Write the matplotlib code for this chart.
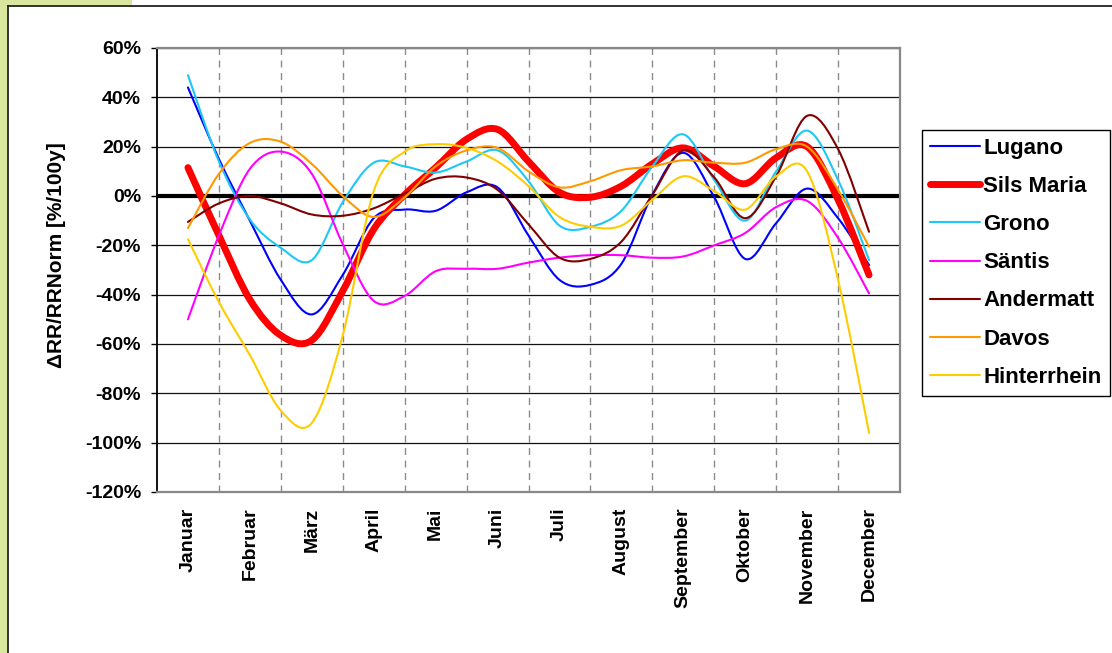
import numpy as np
import matplotlib
matplotlib.use('Agg')
import matplotlib.pyplot as plt
from matplotlib.path import Path
from matplotlib.patches import PathPatch, Rectangle
from matplotlib.lines import Line2D

plt.rcParams['font.family'] = ['Liberation Sans', 'DejaVu Sans']
plt.rcParams['font.weight'] = 'bold'

monate = ['Januar', 'Februar', 'März', 'April', 'Mai', 'Juni', 'Juli',
          'August', 'September', 'Oktober', 'November', 'December']

# Werte je halben Monat, Mitte Januar bis Mitte Dezember [%/100y]
lugano = [44, 15, -10, -34, -48, -32, -9, -5.5, -6, 1.5, 3.5, -16, -34, -36,
          -27.5, 0.5, 17.5, -0.5, -25.5, -11, 3, -9, -28]
sils_maria = [11.5, -16, -42, -56.5, -58.5, -38.5, -13.5, 0.5, 11.5, 23, 27, 14,
              1.5, -0.5, 4, 13, 19.5, 12, 5, 15.5, 20, -1.5, -32]
grono = [49, 14, -9.5, -21, -26, -2.5, 13.5, 12, 9.5, 14, 18.5, 6, -12, -12.5,
         -6, 12, 25, 6.5, -10, 10, 26.5, 6.5, -26]
saentis = [-50, -16, 11, 18, 9, -19.5, -42.5, -40.5, -30.5, -29.5, -29.5, -27,
           -25, -24, -24, -25, -24.5, -20, -15, -4.5, -2, -17, -39.5]
andermatt = [-10.5, -3, 0, -3, -7.5, -8, -5, 1, 7, 7.5, 2.5, -11.5, -25, -25.5,
             -18.5, 0.5, 18.5, 7.5, -9, 8, 32.5, 19, -14.5]
davos = [-13, 9, 21.5, 22, 13, 0, -8.5, -0.5, 12, 18.5, 19.5, 10, 3.5, 6, 10.5,
         12, 14.5, 13.5, 13.5, 19, 20, 2.5, -20.5]
hinterrhein = [-17.5, -43, -64.5, -87, -92, -56.5, 2, 18, 21, 19.5, 14, 4, -8.5,
               -12.5, -12, -1.5, 8, 2, -5.5, 8, 10, -34, -96]

stationen = ['Lugano', 'Sils Maria', 'Grono', 'Säntis', 'Andermatt', 'Davos', 'Hinterrhein']
reihen = [lugano, sils_maria, grono, saentis, andermatt, davos, hinterrhein]
farben = ['#0000ff', '#ff0000', '#1ec8f5', '#ff00ff', '#800000', '#ff9900', '#ffcc00']
breiten = [1.5, 5.0, 1.5, 1.5, 1.5, 1.5, 1.5]

t = np.arange(1, 12.01, 0.5)


def glatt(x, y):
    # geglättete Linie wie in Excel: Bezier-Segmente (Catmull-Rom)
    p = np.column_stack([x, y]).astype(float)
    p = np.vstack([p[0], p, p[-1]])
    verts = [p[1]]
    codes = [Path.MOVETO]
    for i in range(1, len(p) - 2):
        c1 = p[i] + (p[i + 1] - p[i - 1]) / 6.0
        c2 = p[i + 1] - (p[i + 2] - p[i]) / 6.0
        verts += [c1, c2, p[i + 1]]
        codes += [Path.CURVE4] * 3
    return Path(verts, codes)


fig = plt.figure(figsize=(11.12, 6.53), dpi=100)
W, H = 1112, 653

# Rahmen links/oben
fig.add_artist(Rectangle((0, 0), 7 / W, 1, transform=fig.transFigure,
                         facecolor='#d8e69e', edgecolor='none', zorder=0))
fig.add_artist(Rectangle((0, 1 - 5 / H), 132 / W, 5 / H, transform=fig.transFigure,
                         facecolor='#d8e69e', edgecolor='none', zorder=0))
fig.add_artist(Line2D([7.5 / W, 7.5 / W], [0, 1 - 5.5 / H], transform=fig.transFigure,
                      color='#222222', lw=1.3))
fig.add_artist(Line2D([7.5 / W, 1], [1 - 5.5 / H, 1 - 5.5 / H], transform=fig.transFigure,
                      color='#222222', lw=1.3))

ax = fig.add_axes([157 / W, 161 / H, 743 / W, 444 / H])
ax.set_xlim(0.5, 12.5)
ax.set_ylim(-120, 60)

for i, (name, werte) in enumerate(zip(stationen, reihen)):
    ax.add_patch(PathPatch(glatt(t, werte), fill=False, edgecolor=farben[i],
                           lw=breiten[i], capstyle='round', joinstyle='round',
                           zorder=3 + i))

ax.axhline(0, color='black', lw=3, zorder=2)

ax.set_yticks(np.arange(-120, 61, 20))
ax.set_yticklabels([f'{v}%' for v in range(-120, 61, 20)], fontsize=14, fontweight='bold')
ax.set_xticks(np.arange(1, 13))
ax.set_xticklabels(monate, rotation=90, fontsize=14, fontweight='bold', va='top')
ax.set_xticks(np.arange(1.5, 12, 1), minor=True)
ax.tick_params(axis='x', which='both', length=0, pad=11)
ax.tick_params(axis='y', length=4.5, width=1, pad=7, direction='out')

ax.set_axisbelow(True)
ax.yaxis.grid(True, color='#111111', lw=0.9)
ax.xaxis.grid(True, which='minor', color='#8c8c8c', lw=1, ls=(0, (5, 4)))

ax.spines['left'].set_color('black')
ax.spines['left'].set_linewidth(1.3)
for s in ['top', 'right', 'bottom']:
    ax.spines[s].set_color('#888888')
    ax.spines[s].set_linewidth(1.6)

fig.text(57 / W, 1 - 255 / H, 'ΔRR/RRNorm [%/100y]', rotation=90, fontsize=15,
         fontweight='bold', ha='center', va='center')

griffe = [Line2D([], [], color=farben[i], lw=breiten[i], solid_capstyle='round')
          for i in range(len(stationen))]
leg = ax.legend(griffe, stationen, loc='upper left',
                bbox_to_anchor=(922 / W, 1 - 130 / H), bbox_transform=fig.transFigure,
                borderaxespad=0, prop={'weight': 'bold', 'size': 16},
                frameon=True, fancybox=False, edgecolor='black', framealpha=1,
                handlelength=2.25, handletextpad=0.15, labelspacing=0.77, borderpad=0.36)
leg.get_frame().set_linewidth(1)

fig.savefig('out.png', dpi=100)
